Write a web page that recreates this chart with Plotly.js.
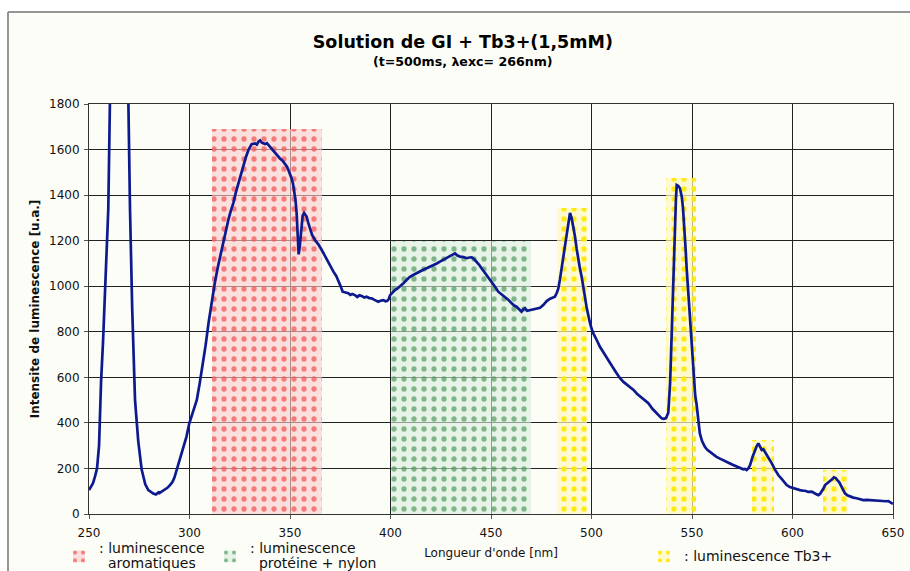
<!DOCTYPE html>
<html>
<head>
<meta charset="utf-8">
<script src="https://cdn.plot.ly/plotly-3.0.1.min.js"></script>
<style>html,body{margin:0;padding:0;background:#fff;}#chart{width:910px;height:571px;}</style>
</head>
<body>
<div id="chart"></div>
<script>
// Spectrum: wavelength (nm) and luminescence intensity (u.a.)
const wavelength = [250,251,252,253,254,255,255.5,256,257,258,259,259.6,260.4,261,263,266,268.5,269.6,270.4,271.5,272.9,274.5,276.2,278,279.5,281,282,283.3,284.5,285,286.1,287.5,289,290.3,291.5,292.5,293.6,295,296.9,298.5,299.9,301.5,303.6,
305,306.5,308,309.5,311,312.5,314,315.5,316.8,318,319.3,320.5,321.8,323,324.3,325.5,326.8,328,329.3,330.9,332.6,333.5,334.3,335.1,336,337.6,338.5,340,341,342.5,343.5,345,346.2,347.5,348.5,349.2,350,350.8,351.5,352.1,352.7,353.3,353.8,354.3,354.8,355.5,356.3,357,358.3,359,360,361,362.4,364,365.8,367,368.3,370,371.6,373,374,375.2,376.2,377.5,379,380,381,382.3,383.5,384.5,385.7,387,388.1,389.5,390.6,392,393.9,395,396.4,397.5,398.4,399.2,399.8,
401,402.2,403.5,404.7,406.3,408,409.5,411.3,413,414.7,416.3,418,419.6,421.3,423,424.6,426.5,428.8,430.5,432.1,433.3,434.6,436.3,437.9,439.2,440.4,441.7,442.9,444,445.3,446.5,447.8,449,450.3,452,453.6,455.3,457,458.7,460.3,461.5,462.7,464,465.2,466,466.9,468,469.4,471,472.7,474.4,476,477.7,479.4,480.6,481.8,482.7,483.5,484.3,485.2,486,486.8,487.7,488.5,489.3,490.1,491,491.8,492.6,493.4,494.3,495.1,496,496.8,497.6,498.4,499.3,500.1,500.9,502.6,504.2,505.9,507.5,509.2,510.9,512.5,514.2,515.9,517.5,519.2,520.9,522.6,524.4,526.3,528.3,530.3,532.4,533.6,534.9,536,537.1,538.2,538.7,539.1,539.5,539.9,540.3,540.7,541.1,541.5,542,542.4,543.2,544,544.9,545.5,546,546.7,547.4,548.2,549,549.8,550.3,551,551.6,552.3,553.1,553.9,555,556.4,557.6,558.9,560.5,562.2,563.9,565.6,567.2,568.9,570.5,572.2,573.9,575.5,576.4,577.2,578,578.9,580.1,581.3,582.2,583,583.8,584.7,585.5,586.3,588,589.7,591.3,593,594.5,596,597.1,598.7,600.4,602,603.7,605,606.2,607.9,609.6,611.2,612.8,613.7,614.5,615.4,616.2,617.5,618.7,619.7,620.6,621.5,622.3,623.2,624,625,626.1,627.3,628.6,630.2,631.9,633.5,635.2,636.9,638.6,640.2,641.9,643.5,645.2,646.5,647.7,649,650];
const intensity = [105,118,135,165,200,300,480,580,760,1000,1200,1340,1800,2600,4500,5500,3000,1800,1340,900,500,320,195,130,105,95,90,86,95,92,98,105,115,127,140,160,193,230,281,340,398,445,500,
570,650,740,840,930,1010,1080,1140,1200,1245,1290,1330,1365,1410,1453,1490,1525,1565,1598,1624,1627,1622,1635,1640,1630,1624,1628,1612,1605,1590,1578,1561,1552,1539,1525,1510,1495,1473,1450,1415,1380,1320,1250,1140,1170,1250,1310,1322,1305,1280,1247,1225,1203,1185,1159,1138,1115,1090,1064,1045,1027,1000,976,972,969,962,966,961,953,960,957,950,954,948,947,940,932,936,939,934,936,945,961,
972,983,990,998,1012,1027,1040,1049,1058,1064,1072,1079,1085,1093,1100,1108,1118,1130,1138,1144,1135,1130,1128,1123,1126,1127,1118,1108,1095,1079,1065,1049,1035,1020,998,976,965,954,940,925,915,910,900,888,898,903,892,895,900,903,905,917,935,945,948,954,970,990,1030,1086,1140,1188,1240,1291,1322,1300,1260,1217,1165,1115,1075,1042,1000,950,905,866,837,812,793,764,734,710,686,662,640,618,596,580,568,559,545,528,515,500,486,462,442,428,420,418,421,445,500,574,680,793,930,1071,1190,1291,1380,1444,1440,1430,1393,1345,1291,1180,1071,960,852,740,650,560,520,480,400,354,320,295,282,273,262,251,243,237,228,222,215,208,202,196,198,193,200,215,250,281,298,310,295,281,284,273,248,222,195,170,155,140,127,118,113,108,105,103,102,97,98,90,83,88,98,112,127,135,142,152,161,158,149,140,127,108,91,82,76,72,69,64,61,62,61,58,57,55,54,56,57,50,44];

// Highlighted emission bands: start / end wavelength (nm) and band height (u.a.)
const aromStart = [311], aromEnd = [366], aromTop = [1690];
const protStart = [400], protEnd = [470], protTop = [1200];
const tbStart = [483, 537, 580, 615], tbEnd = [498, 552, 591, 627.5], tbTop = [1345, 1475, 325, 195];

const aromLabel = ['luminescence', 'aromatiques'];
const protLabel = ['luminescence', 'protéine + nylon'];
const tbLabel = ['luminescence Tb3+'];

const FONT = 'DejaVu Sans, Verdana, sans-serif';
const NB = '\u00a0\u00a0';

function legendText(lines) {
  return lines.map((l, i) => '<span style="font-size:14px">' + (i === 0 ? ': ' : NB) + l + '</span>').join('<br>');
}

function bandTrace(starts, ends, tops, name, legendId, fg, bg) {
  return {
    type: 'bar',
    x: starts.map((s, i) => (s + ends[i]) / 2),
    width: starts.map((s, i) => ends[i] - s),
    y: tops,
    base: 0,
    name: name,
    legend: legendId,
    hoverinfo: 'skip',
    marker: {
      color: bg,
      line: {width: 0},
      pattern: {shape: '.', fgcolor: fg, bgcolor: bg, size: 10, solidity: 0.22, fillmode: 'replace'}
    }
  };
}

const traces = [
  bandTrace(aromStart, aromEnd, aromTop, legendText(aromLabel), 'legend', 'rgba(240,80,80,0.7)', 'rgba(250,205,205,0.62)'),
  bandTrace(protStart, protEnd, protTop, legendText(protLabel), 'legend2', 'rgba(55,140,75,0.6)', 'rgba(218,236,220,0.6)'),
  bandTrace(tbStart, tbEnd, tbTop, legendText(tbLabel), 'legend3', 'rgba(255,232,0,0.9)', 'rgba(255,249,190,0.7)'),
  {
    type: 'scatter', mode: 'lines', x: wavelength, y: intensity,
    line: {color: '#0d1a8f', width: 2.7}, showlegend: false, hoverinfo: 'x+y'
  }
];

const legendBase = {bgcolor: 'rgba(0,0,0,0)', borderwidth: 0, font: {family: FONT, size: 11.5, color: '#111'}, xanchor: 'left', yanchor: 'top', itemclick: false};

const layout = {
  width: 910, height: 571,
  margin: {l: 89, r: 17, t: 104, b: 57, autoexpand: false},
  paper_bgcolor: '#fdfdf7',
  plot_bgcolor: '#fdfdf7',
  barmode: 'overlay',
  bargap: 0,
  font: {family: FONT, size: 12, color: '#111'},
  title: {
    text: 'Solution de GI + Tb3+(1,5mM)',
    font: {family: FONT, size: 17.5, weight: 'bold', color: '#000'},
    xref: 'paper', x: 0.465, xanchor: 'center',
    yref: 'container', y: 1 - 42/571, yanchor: 'middle'
  },
  annotations: [{
    text: '(t=500ms, λexc= 266nm)', showarrow: false,
    xref: 'paper', yref: 'paper', x: 0.465, y: (514-62)/410, xanchor: 'center', yanchor: 'middle',
    font: {family: FONT, size: 12.6, weight: 'bold', color: '#000'}
  }],
  xaxis: {
    range: [250, 650], dtick: 50, tick0: 250,
    showgrid: true, gridcolor: '#222', gridwidth: 1,
    showline: true, linecolor: '#333', linewidth: 1, mirror: true,
    ticks: 'outside', ticklen: 4, tickcolor: '#555', ticklabelstandoff: 4,
    zeroline: false, automargin: false,
    tickfont: {family: FONT, size: 12, color: '#111'},
    title: {text: "Longueur d'onde [nm]", font: {family: FONT, size: 12, color: '#111'}, standoff: 9}
  },
  yaxis: {
    range: [0, 1800], dtick: 200,
    showgrid: true, gridcolor: '#222', gridwidth: 1,
    showline: true, linecolor: '#333', linewidth: 1, mirror: true,
    ticks: 'outside', ticklen: 4, tickcolor: '#555', ticklabelstandoff: 2,
    zeroline: false, automargin: false,
    tickfont: {family: FONT, size: 12, color: '#111'},
    title: {text: 'Intensite de luminescence [u.a.]', font: {family: FONT, size: 12, weight: 'bold', color: '#111'}, standoff: 6}
  },
  legend: Object.assign({}, legendBase, {x: (59-89)/804, y: (514-535)/410}),
  legend2: Object.assign({}, legendBase, {x: (210-89)/804, y: (514-535)/410}),
  legend3: Object.assign({}, legendBase, {x: (644-89)/804, y: (514-542)/410}),
  shapes: [
    {type: 'rect', xref: 'paper', yref: 'paper', x0: -89/804, x1: 821/804, y0: (514-12)/410, y1: 514/410, fillcolor: '#ffffff', line: {width: 0}, layer: 'above'},
    {type: 'rect', xref: 'paper', yref: 'paper', x0: -89/804, x1: (8-89)/804, y0: -57/410, y1: 514/410, fillcolor: '#ffffff', line: {width: 0}, layer: 'above'},
    {type: 'line', xref: 'paper', yref: 'paper', x0: (8-89)/804, x1: 821/804, y0: (514-12)/410, y1: (514-12)/410, line: {color: '#959595', width: 2}, layer: 'above'},
    {type: 'line', xref: 'paper', yref: 'paper', x0: (8-89)/804, x1: (8-89)/804, y0: -57/410, y1: (514-12)/410, line: {color: '#959595', width: 2}, layer: 'above'}
  ]
};

Plotly.newPlot('chart', traces, layout, {displayModeBar: false, staticPlot: true});
</script>
</body>
</html>
